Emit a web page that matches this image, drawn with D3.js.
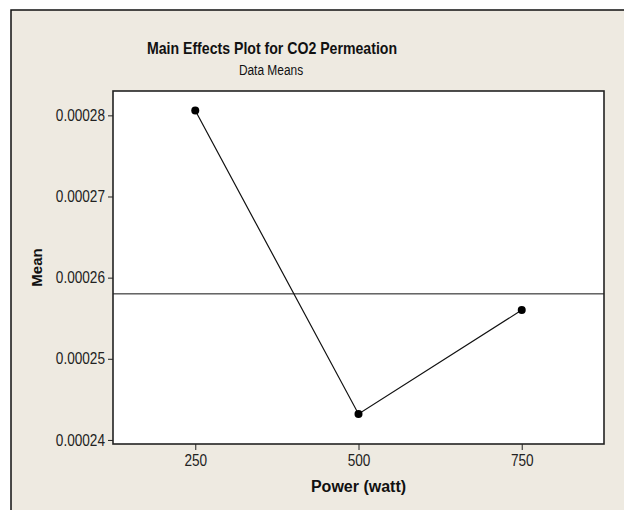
<!DOCTYPE html>
<html>
<head>
<meta charset="utf-8">
<script src="https://cdn.jsdelivr.net/npm/d3@7"></script>
<style>
  html, body { margin: 0; padding: 0; background: #ffffff; }
  svg { display: block; }
</style>
</head>
<body>
<script>
// Main effects of plasma power on CO2 permeation (level means)
const powerLevels = [250, 500, 750];
const meanValues = [0.0002806, 0.0002432, 0.0002560];
const grandMean = 0.000258;
const yTicks = [0.00024, 0.00025, 0.00026, 0.00027, 0.00028];
const yTickLabels = ["0.00024", "0.00025", "0.00026", "0.00027", "0.00028"];
const xDomain = [124, 876];
const yDomain = [0.0002395, 0.0002830];

const W = 624, H = 510;
const plot = { left: 113, top: 91, right: 604, bottom: 444 };
const sans = "'Liberation Sans', Arial, sans-serif";

// squeeze a text element horizontally to mimic a condensed face
function condense(sel, factor) {
  sel.each(function () {
    const w = this.getComputedTextLength();
    d3.select(this)
      .attr("textLength", (w * factor).toFixed(1))
      .attr("lengthAdjust", "spacingAndGlyphs");
  });
}

const svg = d3.select("body").append("svg")
  .attr("width", W).attr("height", H);

// outer panel
svg.append("rect")
  .attr("x", 11).attr("y", 10)
  .attr("width", W + 20).attr("height", H + 20)
  .attr("fill", "#eeeae1")
  .attr("stroke", "#111").attr("stroke-width", 1.5);

const x = d3.scaleLinear().domain(xDomain).range([plot.left, plot.right]);
const y = d3.scaleLinear().domain(yDomain).range([plot.bottom, plot.top]);

// data region
svg.append("rect")
  .attr("x", plot.left).attr("y", plot.top)
  .attr("width", plot.right - plot.left).attr("height", plot.bottom - plot.top)
  .attr("fill", "#ffffff");

// titles
svg.append("text")
  .attr("x", 272).attr("y", 54)
  .attr("text-anchor", "middle")
  .attr("font-family", sans).attr("font-weight", "bold").attr("font-size", 17)
  .attr("fill", "#111")
  .text("Main Effects Plot for CO2 Permeation")
  .call(condense, 0.83);
svg.append("text")
  .attr("x", 271).attr("y", 75)
  .attr("text-anchor", "middle")
  .attr("font-family", sans).attr("font-size", 14)
  .attr("fill", "#111")
  .text("Data Means")
  .call(condense, 0.85);

// axes
const yAxis = d3.axisLeft(y)
  .tickValues(yTicks)
  .tickFormat((d, i) => yTickLabels[i])
  .tickSizeOuter(0).tickSizeInner(5).tickPadding(3);
const gy = svg.append("g").attr("transform", `translate(${plot.left},0)`).call(yAxis);

const xAxis = d3.axisBottom(x)
  .tickValues(powerLevels)
  .tickFormat(d3.format("d"))
  .tickSizeOuter(0).tickSizeInner(6).tickPadding(5);
const gx = svg.append("g").attr("transform", `translate(0,${plot.bottom})`).call(xAxis);

[gx, gy].forEach(g => {
  g.select(".domain").remove();
  g.selectAll("line").attr("stroke", "#222").attr("stroke-width", 1);
  g.selectAll("text")
    .attr("font-family", sans).attr("font-size", 16).attr("fill", "#222")
    .call(condense, 0.85);
});

// grand mean reference line
svg.append("line")
  .attr("x1", plot.left).attr("x2", plot.right)
  .attr("y1", y(grandMean)).attr("y2", y(grandMean))
  .attr("stroke", "#111").attr("stroke-width", 1);

// means connected
const pts = powerLevels.map((p, i) => [p, meanValues[i]]);
svg.append("path")
  .datum(pts)
  .attr("fill", "none")
  .attr("stroke", "#111").attr("stroke-width", 1.2)
  .attr("d", d3.line().x(d => x(d[0])).y(d => y(d[1])));
svg.selectAll("circle.pt")
  .data(pts).enter().append("circle")
  .attr("class", "pt")
  .attr("cx", d => x(d[0])).attr("cy", d => y(d[1]))
  .attr("r", 4).attr("fill", "#000");

// frame of the data region
svg.append("rect")
  .attr("x", plot.left).attr("y", plot.top)
  .attr("width", plot.right - plot.left).attr("height", plot.bottom - plot.top)
  .attr("fill", "none")
  .attr("stroke", "#222").attr("stroke-width", 1.6);

// axis titles
svg.append("text")
  .attr("transform", `translate(42,${(plot.top + plot.bottom) / 2}) rotate(-90)`)
  .attr("text-anchor", "middle")
  .attr("font-family", sans).attr("font-weight", "bold").attr("font-size", 15)
  .attr("fill", "#111")
  .text("Mean");
svg.append("text")
  .attr("x", (plot.left + plot.right) / 2).attr("y", 492)
  .attr("text-anchor", "middle")
  .attr("font-family", sans).attr("font-weight", "bold").attr("font-size", 16)
  .attr("fill", "#111")
  .text("Power (watt)");
</script>
</body>
</html>
